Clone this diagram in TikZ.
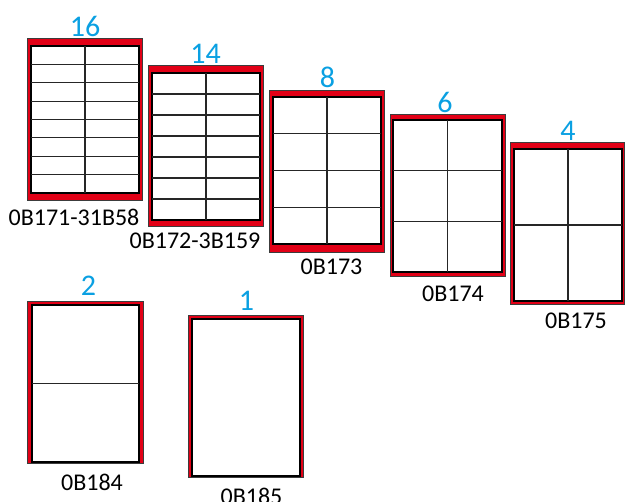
\documentclass[tikz,border=0pt]{standalone}
\usepackage{fontspec}
\setmainfont{Carlito}
\definecolor{sheetred}{RGB}{226,0,22}
\definecolor{numblue}{RGB}{10,160,226}
\definecolor{edgegray}{RGB}{60,60,60}
\tikzset{
  sheetouter/.style={fill=sheetred,draw=edgegray,line width=1pt},
  sheetinner/.style={fill=white,draw=black,line width=1.1pt},
  cellline/.style={draw=black!85,line width=1.2pt},
  countlabel/.style={inner sep=0pt,text=numblue,font=\fontsize{30}{32}\selectfont},
  codelabel/.style={inner sep=0pt,text=black,font=\fontsize{24}{26}\selectfont}
}
% #1 x0 #2 y0 #3 x1 #4 y1 (outer), #5 ix0 #6 iy0 #7 ix1 #8 iy1 (inner)
\newcommand\labelsheet[8]{%
  \draw[sheetouter] (#1,#2) rectangle (#3,#4);
  \draw[sheetinner] (#5,#6) rectangle (#7,#8);
}
% rows: #1 ix0 #2 iy0 #3 ix1 #4 iy1 #5 rows
\newcommand\sheetrows[5]{%
  \foreach \k in {1,...,\numexpr#5-1\relax}
    \draw[cellline] (#1,{#2+\k*(#4-#2)/#5}) -- (#3,{#2+\k*(#4-#2)/#5});
}
\newcommand\sheetmid[4]{%
  \draw[cellline] ({(#1+#3)/2},#2) -- ({(#1+#3)/2},#4);
}
\begin{document}
\begin{tikzpicture}[x=1pt,y=-1pt]
\useasboundingbox (0,0) rectangle (625,502);
% 16
\labelsheet{27}{39}{142}{201}{31}{46}{139}{193}
\sheetrows{31}{46}{139}{193}{8}
\sheetmid{31}{46}{139}{193}
% 14
\labelsheet{148}{66}{263}{227}{152}{73}{260}{220}
\sheetrows{152}{73}{260}{220}{7}
\sheetmid{152}{73}{260}{220}
% 8
\labelsheet{269}{91}{384}{253}{273}{97}{381}{244}
\sheetrows{273}{97}{381}{244}{4}
\sheetmid{273}{97}{381}{244}
% 6
\labelsheet{390}{115}{505}{277}{393}{120}{502}{272}
\sheetrows{393}{120}{502}{272}{3}
\sheetmid{393}{120}{502}{272}
% 4
\labelsheet{510}{143}{624}{305}{514}{149}{622}{301}
\sheetrows{514}{149}{622}{301}{2}
\sheetmid{514}{149}{622}{301}
% 2
\labelsheet{27}{302}{143}{464}{32}{305}{139}{462}
\sheetrows{32}{305}{139}{462}{2}
% 1
\labelsheet{188}{316}{303}{478}{192}{319}{300}{476}

% counts
\node[countlabel] (n16) at (85,26.5) {16};
\node[countlabel] (n14) at (205.5,54) {14};
\node[countlabel] (n8) at (327.5,77) {8};
\node[countlabel] (n6) at (445,102) {6};
\node[countlabel] (n4) at (568,131) {4};
\node[countlabel] (n2) at (88.5,286) {2};
\node[countlabel] (n1) at (246.5,301) {1};
% codes
\node[codelabel] (c16) at (74,217.5) {0B171-31B58};
\node[codelabel] (c14) at (195,241) {0B172-3B159};
\node[codelabel] (c8) at (331.5,267) {0B173};
\node[codelabel] (c6) at (453,294) {0B174};
\node[codelabel] (c4) at (576,321) {0B175};
\node[codelabel] (c2) at (92,482.5) {0B184};
\node[codelabel] (c1) at (251.5,496) {0B185};
\end{tikzpicture}
\end{document}
